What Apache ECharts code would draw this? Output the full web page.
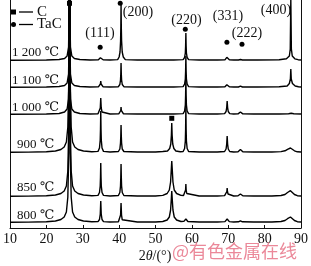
<!DOCTYPE html>
<html>
<head>
<meta charset="utf-8">
<script src="https://cdn.jsdelivr.net/npm/echarts@6/dist/echarts.min.js"></script>
<style>
  html, body { margin: 0; padding: 0; background: #fff; }
  #chart { width: 311px; height: 266px; }
</style>
</head>
<body>
<div id="chart"></div>
<script>
// XRD patterns, [2theta, intensity above the pattern's own baseline]
const xrd800 = [[10,0.8],[15,0.9],[20,1.2],[22.5,2],[24,3.5],[24.9,6],[25.5,11],[25.9,26],[26.15,70],[26.36,700],[26.57,70],[26.82,26],[27.2,11],[27.8,6],[28.7,3.5],[30.2,2],[32.5,1.3],
  [34.2,1.4],[34.6,3.5],[34.82,9],[34.95,22],[35.08,9],[35.3,3.5],[35.7,1.4],[37.5,1],
  [39.8,1.3],[40.2,3.2],[40.4,8],[40.53,20],[40.66,8],[40.86,3.2],[41.3,1.3],[45,1],[50,1],[52,1.5],
  [53.2,3],[53.8,6],[54.15,13],[54.35,24],[54.47,32],[54.6,24],[54.8,13],[55.15,6],[55.8,3],[57,1.5],
  [57.8,1.6],[58.15,2.6],[58.35,4],[58.55,2.6],[58.9,1.5],[62,1],[67,1],
  [69.1,1.4],[69.5,2.5],[69.7,4],[69.9,2.5],[70.3,1.4],[71.5,1],
  [72.8,1.2],[73.35,2.2],[73.9,1.2],[77,1],[82,1],[84.5,1.5],
  [85.6,2.5],[86.3,4.3],[86.8,6],[87.1,6],[87.6,4.5],[88.2,2.5],[89,1.3],[90,1]];

const xrd850 = [[10,0.8],[15,0.9],[20,1.2],[22.5,2],[24,3.5],[24.9,6],[25.5,11],[25.9,26],[26.15,70],[26.36,700],[26.57,70],[26.82,26],[27.2,11],[27.8,6],[28.7,3.5],[30.2,2],[32.5,1.3],
  [34.2,1.6],[34.6,4.5],[34.8,11],[34.88,20],[34.95,34],[35.02,20],[35.1,11],[35.3,4.5],[35.7,1.6],[37.5,1],
  [39.8,1.5],[40.2,4.5],[40.38,11],[40.46,20],[40.53,33],[40.6,20],[40.68,11],[40.86,4.5],[41.3,1.5],[45,1],[50,1],[52,1.6],
  [53.2,3.5],[53.8,7],[54.15,15],[54.35,28],[54.47,36],[54.6,28],[54.8,15],[55.15,7],[55.8,3.5],[57,1.6],
  [57.7,1.5],[58.1,3.5],[58.27,7],[58.35,13],[58.43,7],[58.6,3.5],[59,1.5],[62,1],[67,1],
  [69,1.4],[69.45,3],[69.62,5.5],[69.7,9],[69.78,5.5],[69.95,3],[70.4,1.4],[71.5,1],
  [72.7,1.2],[73.15,2],[73.35,3],[73.55,2],[74,1.2],[77,1],[82,1],[84.5,1.5],
  [85.6,2.5],[86.3,4.5],[86.8,6.5],[87.1,6.3],[87.6,4.5],[88.2,2.5],[89,1.3],[90,1]];

const xrd900 = [[10,0.8],[15,0.9],[20,1.2],[22.5,2],[24,3.5],[24.9,6],[25.5,11],[25.9,26],[26.15,70],[26.36,700],[26.57,70],[26.82,26],[27.2,11],[27.8,6],[28.7,3.5],[30.2,2],[32.5,1.3],
  [34.2,1.6],[34.6,5],[34.8,13],[34.88,24],[34.95,42],[35.02,24],[35.1,13],[35.3,5],[35.7,1.6],[37.5,1],
  [39.8,1.5],[40.2,4],[40.38,10],[40.46,17],[40.53,28],[40.6,17],[40.68,10],[40.86,4],[41.3,1.5],[45,1],[50,1],[52,1.5],
  [53.3,2],[53.9,4.5],[54.2,9],[54.37,18],[54.47,30],[54.57,18],[54.74,9],[55.05,4.5],[55.6,2],[56.8,1.2],
  [57.6,1.5],[58,4.5],[58.2,12],[58.28,24],[58.35,46],[58.42,24],[58.5,12],[58.7,4.5],[59.1,1.5],[62,1],[67,1],
  [69,1.5],[69.4,4],[69.58,9],[69.7,17],[69.82,9],[70,4],[70.4,1.5],[71.5,1],
  [72.7,1.2],[73.15,2.2],[73.35,3.5],[73.55,2.2],[74,1.2],[77,1],[82,1],[84.5,1.4],
  [85.6,2.2],[86.3,3.7],[86.8,5],[87.1,5],[87.6,3.7],[88.2,2.2],[89,1.2],[90,1]];

const xrd1000 = [[10,0.8],[20,1],[23.5,1.5],[25,3],[25.7,6],[26.1,16],[26.28,60],[26.36,600],[26.44,60],[26.62,16],[27,6],[27.7,3],[29.2,1.5],[32,1],
  [34.2,1.3],[34.6,3],[34.82,7],[34.95,17],[35.08,7],[35.3,3],[35.7,1.3],[37.5,1],
  [39.9,1.2],[40.3,2.5],[40.45,4.5],[40.53,8],[40.61,4.5],[40.8,2.5],[41.2,1.2],[45,1],[50,1],[55,1],
  [57.6,1.4],[58,4],[58.2,10],[58.28,20],[58.35,38],[58.42,20],[58.5,10],[58.7,4],[59.1,1.4],[62,1],[67,1],
  [69,1.4],[69.4,3.5],[69.58,7.5],[69.7,14],[69.82,7.5],[70,3.5],[70.4,1.4],[71.5,1],
  [72.7,1.1],[73.15,2],[73.35,3],[73.55,2],[74,1.1],[77,1],[84,1],[86.6,1.3],[87.3,1.8],[88,1.3],[90,1]];

const xrd1100 = [[10,0.8],[20,1],[23.5,1.5],[25,2.5],[25.7,5],[26.1,14],[26.28,55],[26.36,600],[26.44,55],[26.62,14],[27,5],[27.7,2.5],[29.2,1.5],[32,1],
  [34.3,1.2],[34.7,2.5],[34.85,4],[34.95,7],[35.05,4],[35.2,2.5],[35.6,1.2],[37.5,1],
  [39.8,1.3],[40.2,3.5],[40.38,8],[40.46,14],[40.53,25],[40.6,14],[40.68,8],[40.86,3.5],[41.3,1.3],[45,1],[50,1],[55,1],
  [57.6,1.4],[58,4],[58.2,9],[58.28,17],[58.35,32],[58.42,17],[58.5,9],[58.7,4],[59.1,1.4],[62,1],[67,1],
  [69.1,1.2],[69.5,2.3],[69.62,3.3],[69.7,5],[69.78,3.3],[69.9,2.3],[70.3,1.2],[71.5,1],
  [72.8,1],[73.35,1.8],[73.9,1],[78,1],[84,1.2],
  [86.2,2],[86.8,4.5],[87.08,9],[87.2,19],[87.32,9],[87.65,4.5],[88.4,2],[89.3,1.2],[90,1]];

const xrd1200 = [[10,0.8],[20,1],[23.5,1.5],[25,2.5],[25.7,5],[26.1,14],[26.28,55],[26.36,600],[26.44,55],[26.62,14],[27,5],[27.7,2.5],[29.2,1.5],[32,1],
  [34.3,1.2],[34.7,2.2],[34.85,3.2],[34.95,5],[35.05,3.2],[35.2,2.2],[35.6,1.2],[37.5,1],
  [39.6,1.4],[40,4],[40.25,9],[40.4,20],[40.47,34],[40.53,57],[40.6,34],[40.68,20],[40.85,9],[41.15,4],[41.7,1.4],[45,1],[50,1],[55,1],
  [57.6,1.4],[58,3.5],[58.2,8],[58.28,15],[58.35,28],[58.42,15],[58.5,8],[58.7,3.5],[59.1,1.4],[62,1],[67,1],
  [69.1,1.2],[69.45,2.5],[69.6,3.7],[69.7,5.5],[69.8,3.7],[69.95,2.5],[70.3,1.2],[71.5,1],
  [72.8,1],[73.35,1.5],[73.9,1],[78,1],[84,1.2],
  [86,2.2],[86.8,5],[87.05,12],[87.2,62],[87.35,12],[87.6,5],[88.3,2.2],[89.2,1.3],[90,1]];

const temperatures = ['800 ℃', '850 ℃', '900 ℃', '1 000 ℃', '1 100 ℃', '1 200 ℃'];
const patterns = [xrd800, xrd850, xrd900, xrd1000, xrd1100, xrd1200];

// phase markers [2theta, height on the stacked scale]
const cMarks = [[26.36, 224.7], [54.47, 109.7]];
const tacMarks = [[34.79, 180.7], [40.3, 224.7], [58.19, 198.7], [69.63, 185.7], [73.78, 183.7]];
const planeLabels = ['(111)', '(200)', '(220)', '(331)', '(222)', '(400)'];
const xTicks = [10, 20, 30, 40, 50, 60, 70, 80, 90];

// layout only
const stackOffset = [5, 31, 75, 113, 140, 167];
const tempLabelPos = [[17, 215.5], [17, 187.5], [17, 144.5], [12, 108], [12, 81], [12, 52.5]];
const planeLabelPos = [[100, 33], [138, 12], [186.5, 20], [228, 16], [247, 33], [276, 10]];

const serif = '"Liberation Serif", "DejaVu Serif", serif';

const chart = echarts.init(document.getElementById('chart'));

const lineSeries = patterns.map((p, i) => ({
  type: 'line',
  data: p.map(d => [d[0], d[1] + stackOffset[i]]),
  showSymbol: false,
  clip: true,
  lineStyle: { color: '#000', width: 1.4 },
  animation: false,
  z: 2
}));

const graphics = [];
temperatures.forEach((t, i) => {
  graphics.push({
    type: 'text', x: tempLabelPos[i][0], y: tempLabelPos[i][1],
    style: { text: t, fontFamily: serif, fontSize: 13, fill: '#111', verticalAlign: 'middle' }
  });
});
planeLabels.forEach((t, i) => {
  graphics.push({
    type: 'text', x: planeLabelPos[i][0], y: planeLabelPos[i][1],
    style: { text: t, fontFamily: serif, fontSize: 14, fill: '#111', align: 'center', verticalAlign: 'middle' }
  });
});
// legend
graphics.push(
  { type: 'rect', shape: { x: 11, y: 9.5, width: 5, height: 5 }, style: { fill: '#000' } },
  { type: 'line', shape: { x1: 19, y1: 12, x2: 33, y2: 12 }, style: { stroke: '#000', lineWidth: 1.3 } },
  { type: 'text', x: 37, y: 12, style: { text: 'C', fontFamily: serif, fontSize: 15, fill: '#111', verticalAlign: 'middle' } },
  { type: 'circle', shape: { cx: 13.5, cy: 24.5, r: 2.5 }, style: { fill: '#000' } },
  { type: 'line', shape: { x1: 19, y1: 24.5, x2: 33, y2: 24.5 }, style: { stroke: '#000', lineWidth: 1.3 } },
  { type: 'text', x: 37, y: 24.5, style: { text: 'TaC', fontFamily: serif, fontSize: 15, fill: '#111', verticalAlign: 'middle' } },
  {
    type: 'text', x: 155, y: 256,
    style: {
      text: '2{i|θ}/(°)', fontFamily: serif, fontSize: 14, fill: '#111', align: 'center', verticalAlign: 'middle',
      rich: { i: { fontStyle: 'italic', fontFamily: serif, fontSize: 14, fill: '#111' } }
    }
  },
  {
    type: 'text', x: 172, y: 251, z: 100,
    style: { text: '@有色金属在线', fontFamily: '"Noto Sans CJK SC", sans-serif', fontSize: 18, fill: 'rgba(232,115,135,0.85)', verticalAlign: 'middle' }
  }
);

chart.setOption({
  animation: false,
  grid: { left: 4.5, right: 6, top: 0, bottom: 38, containLabel: false },
  xAxis: {
    type: 'value', min: 10, max: 90, interval: 10,
    axisLine: { show: true, lineStyle: { color: '#111', width: 1 } },
    axisTick: { show: true, inside: true, length: 3, lineStyle: { color: '#111' } },
    axisLabel: {
      margin: 4, fontFamily: serif, fontSize: 14, color: '#111',
      formatter: v => (xTicks.includes(v) ? String(v) : '')
    },
    splitLine: { show: false }
  },
  yAxis: [
    {
      type: 'value', min: 0, max: 228, position: 'left',
      axisLine: { show: true, lineStyle: { color: '#111', width: 1 } },
      axisTick: { show: false }, axisLabel: { show: false }, splitLine: { show: false }
    },
    {
      type: 'value', min: 0, max: 228, position: 'right',
      axisLine: { show: true, lineStyle: { color: '#111', width: 1 } },
      axisTick: { show: false }, axisLabel: { show: false }, splitLine: { show: false }
    }
  ],
  series: lineSeries.concat([
    {
      type: 'scatter', data: cMarks, symbol: 'rect', symbolSize: 5,
      itemStyle: { color: '#000', opacity: 1 }, clip: false, z: 3
    },
    {
      type: 'scatter', data: tacMarks, symbol: 'circle', symbolSize: 5,
      itemStyle: { color: '#000', opacity: 1 }, clip: false, z: 3
    }
  ]),
  graphic: graphics
});
</script>
</body>
</html>
